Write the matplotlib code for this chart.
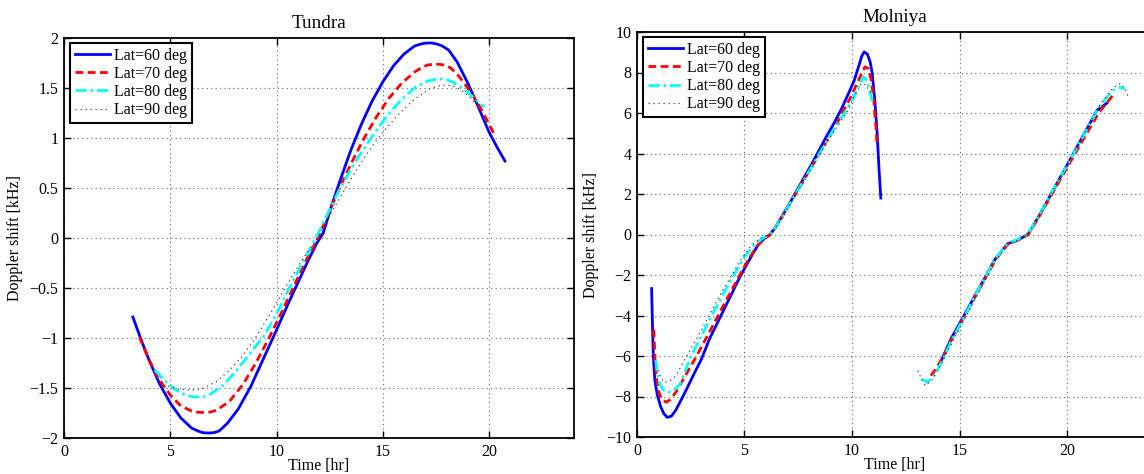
import matplotlib
matplotlib.use("Agg")
import matplotlib.pyplot as plt

# ---------------- data: Tundra ----------------
tun_t60 = [3.24, 3.6, 4.0, 4.5, 5.0, 5.5, 6.0, 6.3, 6.55, 6.8, 7.05, 7.3, 7.7, 8.2, 8.8, 9.4, 10.0, 10.5,
           11.0, 11.5, 11.9, 12.2, 12.6, 13.0, 13.5, 14.0, 14.5, 15.0, 15.5, 16.0, 16.5, 16.8, 17.05, 17.3,
           17.55, 17.8, 18.1, 18.5, 19.0, 19.5, 20.0, 20.4, 20.75]
tun_y60 = [-0.79, -1.0, -1.22, -1.46, -1.65, -1.80, -1.90, -1.93, -1.947, -1.95, -1.947, -1.93, -1.85,
           -1.71, -1.48, -1.20, -0.92, -0.68, -0.45, -0.22, -0.05, 0.05, 0.33, 0.58, 0.88, 1.14, 1.37, 1.56,
           1.72, 1.84, 1.92, 1.94, 1.95, 1.95, 1.94, 1.92, 1.88, 1.76, 1.55, 1.31, 1.06, 0.90, 0.77]

tun_t70 = [3.55, 4.0, 4.5, 5.0, 5.5, 6.0, 6.3, 6.6, 6.9, 7.2, 7.8, 8.4, 9.0, 9.6, 10.2, 10.8, 11.4, 11.95,
           12.4, 12.9, 13.5, 14.1, 14.7, 15.3, 15.9, 16.5, 16.8, 17.1, 17.5, 17.9, 18.2, 18.5, 19.0, 19.5,
           19.9, 20.26]
tun_y70 = [-0.99, -1.22, -1.42, -1.57, -1.68, -1.73, -1.742, -1.745, -1.74, -1.72, -1.63, -1.47, -1.26,
           -1.02, -0.76, -0.49, -0.22, 0.0, 0.22, 0.47, 0.74, 0.99, 1.21, 1.40, 1.55, 1.66, 1.70, 1.73,
           1.74, 1.73, 1.70, 1.64, 1.50, 1.34, 1.18, 1.03]

tun_t80 = [4.28, 4.7, 5.2, 5.7, 6.0, 6.28, 6.6, 6.9, 7.5, 8.1, 8.7, 9.4, 10.0, 10.55, 11.2, 11.85, 12.4,
           13.0, 13.7, 14.45, 15.2, 15.9, 16.5, 17.1, 17.45, 17.77, 18.05, 18.3, 18.8, 19.3, 19.77]
tun_y80 = [-1.32, -1.42, -1.51, -1.57, -1.585, -1.59, -1.585, -1.56, -1.47, -1.33, -1.17, -0.98, -0.76,
           -0.52, -0.26, 0.0, 0.24, 0.50, 0.76, 1.0, 1.22, 1.39, 1.50, 1.57, 1.585, 1.59, 1.58, 1.56, 1.49,
           1.40, 1.31]

tun_t90 = [4.9, 5.4, 5.7, 6.0, 6.3, 6.6, 7.2, 7.8, 8.4, 9.0, 9.7, 10.4, 11.2, 12.0, 12.6, 13.25, 14.0,
           14.6, 15.1, 15.8, 16.5, 17.2, 17.6, 18.0, 18.3, 18.6, 19.1, 19.6]
tun_y90 = [-1.48, -1.51, -1.518, -1.52, -1.515, -1.50, -1.43, -1.32, -1.18, -1.0, -0.76, -0.50, -0.22, 0.02,
           0.26, 0.50, 0.76, 0.95, 1.08, 1.25, 1.39, 1.49, 1.52, 1.53, 1.52, 1.49, 1.41, 1.28]

# ---------------- data: Molniya (two passes each) ----------------
mol_t60a = [0.68, 0.72, 0.76, 0.83, 0.94, 1.1, 1.25, 1.41, 1.6, 1.8, 2.0, 2.3, 2.69, 3.0, 3.37, 3.7, 4.05,
            4.4, 4.73, 5.07, 5.41, 5.7, 5.95, 6.18, 6.43, 6.8, 7.11, 7.45, 7.8, 8.15, 8.48, 8.8, 9.16, 9.5,
            9.84, 10.1, 10.35, 10.45, 10.57, 10.72, 10.85, 10.94, 11.06, 11.17, 11.25, 11.34]
mol_y60a = [-2.67, -4.5, -6.0, -7.2, -7.9, -8.5, -8.85, -9.03, -8.97, -8.68, -8.28, -7.65, -6.8, -6.15,
            -5.16, -4.45, -3.69, -2.94, -2.21, -1.55, -0.9, -0.41, -0.18, 0.0, 0.33, 1.0, 1.56, 2.2, 2.87,
            3.52, 4.18, 4.82, 5.49, 6.18, 6.97, 7.6, 8.44, 8.8, 9.02, 8.9, 8.5, 7.95, 6.64, 5.0, 3.36, 1.8]
mol_t60b = [14.09, 14.6, 15.29, 15.97, 16.65, 17.24, 17.67, 18.18, 18.69, 19.37, 20.05, 20.73, 21.41, 21.85]
mol_y60b = [-6.39, -5.16, -3.85, -2.54, -1.23, -0.45, -0.3, 0.0, 0.9, 2.21, 3.52, 4.84, 6.15, 6.48]

mol_t70a = [0.78, 0.84, 0.92, 1.02, 1.15, 1.36, 1.55, 1.8, 2.1, 2.45, 2.77, 3.2, 3.7, 4.2, 4.7, 5.2, 5.6,
            5.95, 6.2, 6.6, 7.1, 7.6, 8.1, 8.6, 9.1, 9.55, 9.95, 10.25, 10.45, 10.6, 10.75, 10.88, 11.0,
            11.1, 11.17]
mol_y70a = [-4.69, -6.2, -7.2, -7.8, -8.15, -8.28, -8.15, -7.8, -7.25, -6.6, -6.0, -5.15, -4.15, -3.15,
            -2.15, -1.2, -0.55, -0.2, 0.0, 0.6, 1.5, 2.4, 3.3, 4.2, 5.1, 6.0, 6.8, 7.5, 7.95, 8.28, 8.2, 7.7,
            6.8, 5.5, 4.34]
mol_t70b = [13.67, 13.9, 14.2, 14.6, 15.3, 16.0, 16.7, 17.3, 17.7, 18.2, 18.7, 19.4, 20.1, 20.8, 21.5, 22.15]
mol_y70b = [-6.97, -6.65, -6.1, -5.25, -3.9, -2.55, -1.2, -0.42, -0.28, 0.0, 0.88, 2.18, 3.48, 4.78, 6.05,
            6.89]

mol_t80a = [0.875, 0.95, 1.05, 1.2, 1.46, 1.7, 2.0, 2.52, 3.0, 3.5, 4.0, 4.5, 5.0, 5.5, 5.9, 6.2, 6.6, 7.1,
            7.6, 8.1, 8.6, 9.1, 9.65, 10.05, 10.3, 10.52, 10.7, 10.85, 10.95]
mol_y80a = [-6.2, -6.9, -7.35, -7.65, -7.79, -7.7, -7.4, -6.0, -5.0, -3.95, -2.95, -2.0, -1.1, -0.45, -0.15,
            0.0, 0.6, 1.5, 2.4, 3.3, 4.2, 5.1, 6.0, 6.7, 7.3, 7.79, 7.6, 7.0, 6.5]
mol_t80b = [13.24, 13.5, 13.8, 14.2, 14.6, 15.3, 16.0, 16.7, 17.3, 17.7, 18.2, 18.7, 19.4, 20.1, 20.8, 21.5,
            22.1, 22.47, 22.7]
mol_y80b = [-7.13, -7.3, -7.0, -6.25, -5.3, -3.9, -2.5, -1.15, -0.4, -0.25, 0.05, 0.95, 2.3, 3.6, 4.95, 6.3,
            7.1, 7.27, 7.2]

mol_t90a = [1.0, 1.1, 1.29, 1.5, 1.8, 2.31, 2.8, 3.3, 3.8, 4.3, 4.8, 5.3, 5.8, 6.2, 6.6, 7.1, 7.6, 8.1, 8.6,
            9.1, 9.75, 10.1, 10.43, 10.65, 10.8, 10.94]
mol_y90a = [-6.7, -7.1, -7.3, -7.25, -7.0, -6.0, -5.1, -4.1, -3.1, -2.2, -1.3, -0.55, -0.15, 0.0, 0.6, 1.45,
            2.35, 3.25, 4.15, 5.0, 6.0, 6.8, 7.46, 7.4, 7.1, 6.97]
mol_t90b = [13.07, 13.25, 13.41, 13.7, 14.1, 14.6, 15.3, 16.0, 16.7, 17.3, 17.7, 18.2, 18.7, 19.4, 20.1,
            20.8, 21.5, 22.1, 22.5, 22.7, 22.85]
mol_y90b = [-6.72, -7.2, -7.46, -7.2, -6.5, -5.45, -4.05, -2.65, -1.25, -0.45, -0.28, 0.05, 0.95, 2.3, 3.65,
            5.0, 6.35, 7.2, 7.47, 7.2, 6.8]

labels = ["Lat=60 deg", "Lat=70 deg", "Lat=80 deg", "Lat=90 deg"]
titles = ["Tundra", "Molniya"]
xlabel = "Time [hr]"
ylabel = "Doppler shift [kHz]"
xticks = [0, 5, 10, 15, 20]
yticks_tundra = [-2, -1.5, -1, -0.5, 0, 0.5, 1, 1.5, 2]
yticks_molniya = [-10, -8, -6, -4, -2, 0, 2, 4, 6, 8, 10]

# ---------------- styling ----------------
plt.rcParams['font.family'] = ['Liberation Serif', 'DejaVu Serif']
plt.rcParams['font.size'] = 11.5
plt.rcParams['axes.unicode_minus'] = True

styles = [
    dict(color=(0, 0, 1), lw=2.0, linestyle='-', solid_joinstyle='round'),
    dict(color=(1, 0, 0), lw=2.0, linestyle=(0, (2.8, 1.6))),
    dict(color=(0, 1, 1), lw=2.0, linestyle=(0, (4.0, 1.4, 0.9, 1.4))),
    dict(color=(0.25, 0.25, 0.25), lw=0.9, linestyle=(0, (1, 3))),
]

W, H = 1144, 474
fig = plt.figure(figsize=(W / 100, H / 100), dpi=100)
ax1 = fig.add_axes([64 / W, (H - 438) / H, 510 / W, 400 / H])
ax2 = fig.add_axes([637 / W, (H - 437) / H, 516 / W, 405 / H])


def style_axes(ax, yticks, ylim):
    ax.set_xlim(0, 24)
    ax.set_ylim(*ylim)
    ax.set_xticks(xticks)
    ax.set_yticks(yticks)
    ax.yaxis.set_major_formatter(matplotlib.ticker.FuncFormatter(
        lambda v, p: ('%g' % v).replace('-', '\u2212')))
    ax.tick_params(direction='in', top=True, right=True, length=5, width=1.0, pad=4, labelsize=11.5)
    ax.grid(True, linestyle=(0, (1, 3)), color='0.4', linewidth=0.8)
    for s in ax.spines.values():
        s.set_linewidth(1.3)
        s.set_color('black')
    ax.set_xlabel(xlabel, labelpad=-1)
    ax.set_ylabel(ylabel, labelpad=5)


# Tundra
tun_series = [(tun_t60, tun_y60), (tun_t70, tun_y70), (tun_t80, tun_y80), (tun_t90, tun_y90)]
for (t, y), st, lab in zip(tun_series, styles, labels):
    ax1.plot(t, y, label=lab, **st)
style_axes(ax1, yticks_tundra, (-2, 2))
ax1.set_title(titles[0], pad=7)

# Molniya
mol_series = [((mol_t60a, mol_y60a), (mol_t60b, mol_y60b)),
              ((mol_t70a, mol_y70a), (mol_t70b, mol_y70b)),
              ((mol_t80a, mol_y80a), (mol_t80b, mol_y80b)),
              ((mol_t90a, mol_y90a), (mol_t90b, mol_y90b))]
for ((ta, ya), (tb, yb)), st, lab in zip(mol_series, styles, labels):
    ax2.plot(ta, ya, label=lab, **st)
    ax2.plot(tb, yb, **st)
style_axes(ax2, yticks_molniya, (-10, 10))
ax2.set_title(titles[1], pad=7)

for ax in (ax1, ax2):
    leg = ax.legend(loc='upper left', bbox_to_anchor=(0.012, 0.988), borderaxespad=0,
                    fancybox=False, framealpha=1, edgecolor='black', fontsize=11.5,
                    handlelength=2.2, handletextpad=0.25, labelspacing=0.14, borderpad=0.3)
    leg.get_frame().set_linewidth(1.5)

fig.savefig('out.png', dpi=100)
